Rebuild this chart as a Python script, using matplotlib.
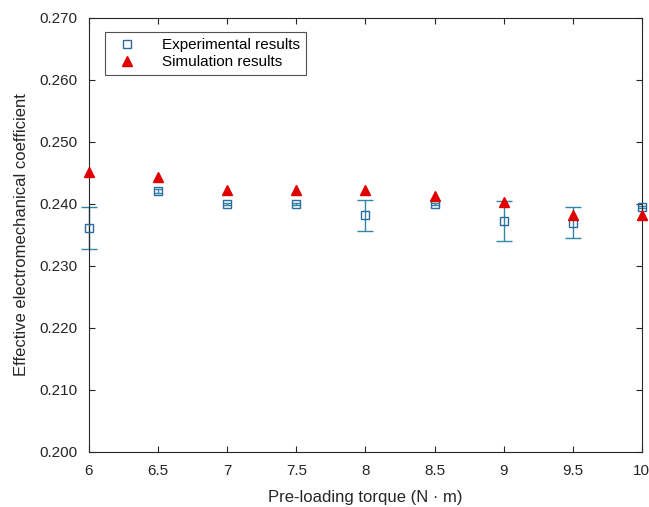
import numpy as np
import matplotlib.pyplot as plt

plt.rcParams['font.family'] = ['Liberation Sans', 'DejaVu Sans']

torque = [6, 6.5, 7, 7.5, 8, 8.5, 9, 9.5, 10]
exp_vals = [0.2361, 0.2421, 0.2400, 0.2400, 0.2382, 0.2400, 0.2373, 0.2370, 0.2395]
exp_err = [0.0034, 0.0003, 0.0002, 0.0002, 0.0025, 0.0002, 0.0032, 0.0025, 0.0002]
sim_vals = [0.2452, 0.2443, 0.2423, 0.2423, 0.2423, 0.2413, 0.2404, 0.2383, 0.2382]

fig = plt.figure(figsize=(6.49, 5.07), dpi=100)
ax = fig.add_axes([0.137, 0.1085, 0.852, 0.856])

# big error bars get wide caps, tiny ones stay inside the square
big = [i for i, e in enumerate(exp_err) if e > 0.001]
small = [i for i, e in enumerate(exp_err) if e <= 0.001]
for idx, cs in ((big, 6), (small, 3)):
    eb = ax.errorbar([torque[i] for i in idx], [exp_vals[i] for i in idx],
                     yerr=[exp_err[i] for i in idx], fmt='none', ecolor='#2f86a8',
                     elinewidth=1.0, capsize=cs, capthick=1.0, zorder=2)
    for art in eb.lines[1] + eb.lines[2]:
        art.set_clip_on(False)

ax.plot(torque, exp_vals, 's', mfc='none', mec='#2a6aa0', ms=6, mew=1.0,
        label='Experimental results', zorder=3, clip_on=False)
ax.plot(torque, sim_vals, '^', color='#e00000', ms=7,
        label='Simulation results', zorder=4, clip_on=False)

ax.set_xlim(6, 10)
ax.set_ylim(0.200, 0.270)
ax.set_xticks(np.arange(6, 10.01, 0.5))
ax.set_xticklabels(['6', '6.5', '7', '7.5', '8', '8.5', '9', '9.5', '10'])
ax.set_yticks(np.arange(0.200, 0.2701, 0.010))
ax.set_yticklabels(['%.3f' % v for v in np.arange(0.200, 0.2701, 0.010)])
ax.tick_params(direction='in', labelsize=11, colors='#262626', top=True, right=True, length=4)
ax.tick_params(axis='x', pad=9)
ax.tick_params(axis='y', pad=8)
for s in ax.spines.values():
    s.set_color('#262626')
    s.set_linewidth(0.8)

ax.set_xlabel('Pre-loading torque (N · m)', fontsize=12, color='#262626', labelpad=8)
ax.set_ylabel('Effective electromechanical coefficient', fontsize=12, color='#262626', labelpad=8)

leg = ax.legend(loc='upper left', bbox_to_anchor=(0.016, 0.985), fontsize=11,
                frameon=True, fancybox=False, edgecolor='#262626',
                handletextpad=1.3, borderpad=0.4, labelspacing=0.2)
leg.get_frame().set_linewidth(0.8)

fig.savefig('out.png', dpi=100)
